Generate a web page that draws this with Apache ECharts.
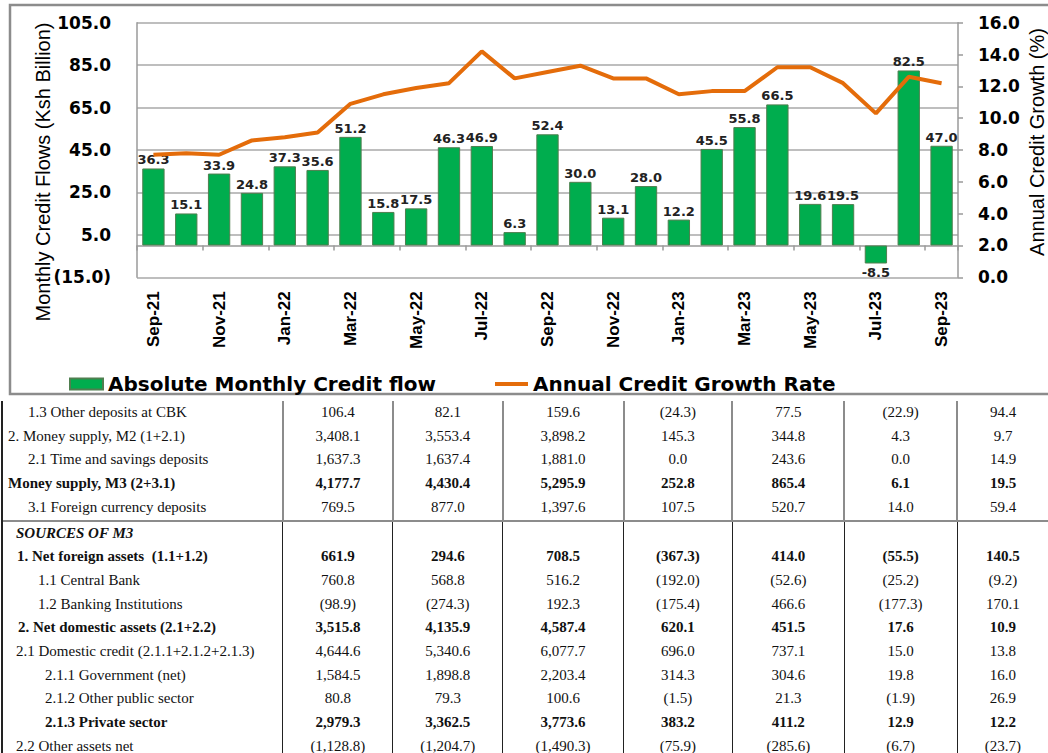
<!DOCTYPE html>
<html>
<head>
<meta charset="utf-8">
<script src="https://cdn.jsdelivr.net/npm/echarts/dist/echarts.min.js"></script>
<style>
  body { margin: 0; width: 1048px; height: 753px; overflow: hidden; background: #fff; }
  #chart { position: absolute; left: 0; top: 0; width: 1048px; height: 398px; }
  #tbl { position: absolute; left: 1px; top: 401px; border-collapse: collapse; table-layout: fixed;
         font-family: 'Liberation Serif', 'Times New Roman', serif; font-size: 15px; color: #111; }
  #tbl td { height: 23.7px; line-height: 23.7px; padding: 0; text-align: center; white-space: pre; overflow: hidden; }
  #tbl td.lab { text-align: left; border-left: 2px solid #222; }
</style>
</head>
<body>
<div id="chart"></div>
<table id="tbl"></table>
<script>
// chart data
const months = ['Sep-21', 'Oct-21', 'Nov-21', 'Dec-21', 'Jan-22', 'Feb-22', 'Mar-22', 'Apr-22', 'May-22',
  'Jun-22', 'Jul-22', 'Aug-22', 'Sep-22', 'Oct-22', 'Nov-22', 'Dec-22', 'Jan-23', 'Feb-23', 'Mar-23',
  'Apr-23', 'May-23', 'Jun-23', 'Jul-23', 'Aug-23', 'Sep-23']
const creditFlow = [36.3, 15.1, 33.9, 24.8, 37.3, 35.6, 51.2, 15.8, 17.5, 46.3, 46.9, 6.3, 52.4, 30.0,
  13.1, 28.0, 12.2, 45.5, 55.8, 66.5, 19.6, 19.5, -8.5, 82.5, 47.0]
const growthRate = [7.7, 7.8, 7.7, 8.6, 8.8, 9.1, 10.9, 11.5, 11.9, 12.2, 14.2, 12.5, 12.9, 13.3,
  12.5, 12.5, 11.5, 11.7, 11.7, 13.2, 13.2, 12.2, 10.3, 12.6, 12.2]
const flowTicks = [-15, 5, 25, 45, 65, 85, 105]
const growthTicks = [0, 2, 4, 6, 8, 10, 12, 14, 16]

// table data
const rowLabels = [
  '1.3 Other deposits at CBK',
  '2. Money supply, M2 (1+2.1)',
  '2.1 Time and savings deposits',
  'Money supply, M3 (2+3.1)',
  '3.1 Foreign currency deposits',
  'SOURCES OF M3',
  '1. Net foreign assets  (1.1+1.2)',
  '1.1 Central Bank',
  '1.2 Banking Institutions',
  '2. Net domestic assets (2.1+2.2)',
  '2.1 Domestic credit (2.1.1+2.1.2+2.1.3)',
  '2.1.1 Government (net)',
  '2.1.2 Other public sector',
  '2.1.3 Private sector',
  '2.2 Other assets net'
]
const rowValues = [
  ['106.4', '82.1', '159.6', '(24.3)', '77.5', '(22.9)', '94.4'],
  ['3,408.1', '3,553.4', '3,898.2', '145.3', '344.8', '4.3', '9.7'],
  ['1,637.3', '1,637.4', '1,881.0', '0.0', '243.6', '0.0', '14.9'],
  ['4,177.7', '4,430.4', '5,295.9', '252.8', '865.4', '6.1', '19.5'],
  ['769.5', '877.0', '1,397.6', '107.5', '520.7', '14.0', '59.4'],
  ['', '', '', '', '', '', ''],
  ['661.9', '294.6', '708.5', '(367.3)', '414.0', '(55.5)', '140.5'],
  ['760.8', '568.8', '516.2', '(192.0)', '(52.6)', '(25.2)', '(9.2)'],
  ['(98.9)', '(274.3)', '192.3', '(175.4)', '466.6', '(177.3)', '170.1'],
  ['3,515.8', '4,135.9', '4,587.4', '620.1', '451.5', '17.6', '10.9'],
  ['4,644.6', '5,340.6', '6,077.7', '696.0', '737.1', '15.0', '13.8'],
  ['1,584.5', '1,898.8', '2,203.4', '314.3', '304.6', '19.8', '16.0'],
  ['80.8', '79.3', '100.6', '(1.5)', '21.3', '(1.9)', '26.9'],
  ['2,979.3', '3,362.5', '3,773.6', '383.2', '411.2', '12.9', '12.2'],
  ['(1,128.8)', '(1,204.7)', '(1,490.3)', '(75.9)', '(285.6)', '(6.7)', '(23.7)']
]
const boldRows = [3, 5, 6, 9, 13]

// table layout
const colWidths = [281, 110, 110, 121, 109, 112, 113, 91]
const rowIndent = [25, 5, 25, 5, 25, 13, 14, 35, 35, 15, 13, 42, 42, 42, 13]

function buildTable() {
  const tbl = document.getElementById('tbl')
  let html = '<colgroup>' + colWidths.map(w => '<col style="width:' + w + 'px">').join('') + '</colgroup>'
  rowLabels.forEach((label, i) => {
    const upper = i < 5
    const line = upper ? '2px solid #8c8c8c' : '1px solid #222'
    const top = i === 5 ? 'border-top:2px solid #8c8c8c;' : ''
    const weight = boldRows.indexOf(i) >= 0 ? 'font-weight:bold;' : ''
    const italic = i === 5 ? 'font-style:italic;' : ''
    html += '<tr>'
    html += '<td class="lab" style="padding-left:' + rowIndent[i] + 'px;' + top + weight + italic + '">' + label + '</td>'
    rowValues[i].forEach(v => {
      html += '<td style="border-left:' + line + ';' + top + weight + '">' + v + '</td>'
    })
    html += '</tr>'
  })
  tbl.innerHTML = html
}

function fmtFlow(v) {
  return v < 0 ? '(' + Math.abs(v).toFixed(1) + ')' : v.toFixed(1)
}

function initChart() {
  const chart = echarts.init(document.getElementById('chart'), null, { renderer: 'svg' })
  const axisGray = '#9a9a9a'
  const labelFont = 'DejaVu Sans'
  const legendText = { fontFamily: labelFont, fontWeight: 'bold', fontSize: 20, color: '#000' }

  chart.setOption({
    animation: false,
    textStyle: { fontFamily: 'Liberation Sans, Arial, sans-serif' },
    grid: {
      left: 137,
      right: 90,
      top: 22.7,
      bottom: 120.7,
      containLabel: false,
      outerBoundsMode: 'none'
    },
    legend: [{
      left: 64,
      top: 369,
      itemWidth: 33,
      itemHeight: 11,
      itemGap: 0,
      data: [{ name: 'Absolute Monthly Credit flow', icon: 'rect' }],
      textStyle: legendText
    }, {
      left: 490,
      top: 369,
      itemWidth: 33,
      itemHeight: 4,
      itemGap: 0,
      data: [{ name: 'Annual Credit Growth Rate', icon: 'rect', itemStyle: { color: '#E46C0A' } }],
      textStyle: legendText
    }],
    xAxis: [{
      type: 'category',
      data: months,
      boundaryGap: true,
      axisLine: { onZero: true, onZeroAxisIndex: 0, lineStyle: { color: axisGray, width: 1.5 } },
      axisTick: { show: true, interval: 1, length: 5, lineStyle: { color: axisGray, width: 1.5 } },
      axisLabel: { show: false },
      splitLine: { show: false }
    }, {
      type: 'category',
      data: months,
      position: 'bottom',
      boundaryGap: true,
      axisLine: { show: false, onZero: false },
      axisTick: { show: false },
      axisLabel: {
        interval: 1,
        rotate: 90,
        margin: 14,
        fontFamily: 'Liberation Sans, Arial, sans-serif',
        fontWeight: 'bold',
        fontSize: 17,
        color: '#000'
      },
      splitLine: { show: false }
    }],
    yAxis: [{
      type: 'value',
      min: flowTicks[0],
      max: flowTicks[flowTicks.length - 1],
      interval: flowTicks[1] - flowTicks[0],
      axisLine: { show: true, lineStyle: { color: axisGray, width: 1.5 } },
      axisTick: { show: false },
      axisLabel: {
        margin: 26,
        formatter: fmtFlow,
        fontFamily: labelFont,
        fontWeight: 'bold',
        fontSize: 17,
        color: '#000'
      },
      splitLine: { show: true, lineStyle: { color: '#a8a8a8', width: 1.5 } }
    }, {
      type: 'value',
      position: 'right',
      min: growthTicks[0],
      max: growthTicks[growthTicks.length - 1],
      interval: growthTicks[1] - growthTicks[0],
      axisLine: { show: true, lineStyle: { color: axisGray, width: 1.5 } },
      axisTick: { show: true, length: 5, lineStyle: { color: axisGray, width: 1.5 } },
      axisLabel: {
        margin: 20,
        formatter: v => v.toFixed(1),
        fontFamily: labelFont,
        fontWeight: 'bold',
        fontSize: 17,
        color: '#000'
      },
      splitLine: { show: false }
    }],
    graphic: [{
      type: 'rect',
      z: -10,
      shape: { x: 10, y: 5, width: 1045, height: 389 },
      style: { fill: 'none', stroke: '#8c8c8c', lineWidth: 2.5 }
    }, {
      type: 'text',
      x: 43,
      y: 172,
      rotation: Math.PI / 2,
      style: {
        text: 'Monthly Credit Flows (Ksh Billion)',
        fontFamily: 'Liberation Sans, Arial, sans-serif',
        fontSize: 20,
        fill: '#000',
        align: 'center',
        verticalAlign: 'middle'
      }
    }, {
      type: 'text',
      x: 1037,
      y: 142,
      rotation: Math.PI / 2,
      style: {
        text: 'Annual Credit Growth (%)',
        fontFamily: 'Liberation Sans, Arial, sans-serif',
        fontSize: 20,
        fill: '#000',
        align: 'center',
        verticalAlign: 'middle'
      }
    }],
    series: [{
      name: 'Absolute Monthly Credit flow',
      type: 'bar',
      xAxisIndex: 0,
      yAxisIndex: 0,
      barWidth: '68%',
      data: creditFlow.map(v => (v < 0 ? { value: v, label: { position: 'bottom' } } : v)),
      itemStyle: { color: '#00AD4E', borderColor: '#4f7f4f', borderWidth: 1 },
      label: {
        show: true,
        position: 'top',
        distance: 2,
        formatter: p => p.value.toFixed(1),
        fontFamily: labelFont,
        fontWeight: 'bold',
        fontSize: 13,
        color: '#222'
      }
    }, {
      name: 'Annual Credit Growth Rate',
      type: 'line',
      xAxisIndex: 0,
      yAxisIndex: 1,
      data: growthRate,
      symbol: 'none',
      z: 5,
      itemStyle: { color: '#E46C0A' },
      lineStyle: { color: '#E46C0A', width: 4 }
    }]
  })
}

buildTable()
initChart()
</script>
</body>
</html>
